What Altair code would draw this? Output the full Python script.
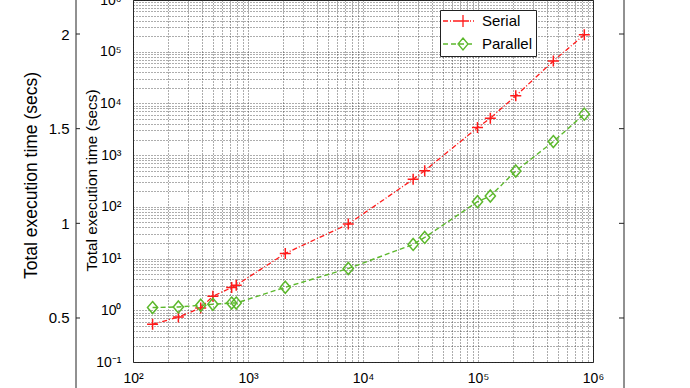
import altair as alt
import pandas as pd

# ---------------- data ----------------
sizes = [148, 248, 388, 495, 721, 790, 2110, 7450, 27300, 34400,
         99000, 128000, 213000, 452000, 840000]
serial_times = [0.535, 0.74, 1.11, 1.87, 2.75, 3.05, 12.6, 46.4, 341, 500,
                3410, 5190, 14000, 66000, 214000]
parallel_times = [1.13, 1.16, 1.25, 1.31, 1.38, 1.38, 2.79, 6.43, 18.8, 25.6,
                  126, 162, 494, 1827, 6210]
series_names = ["Serial", "Parallel"]
outer_ticks = [0.5, 1.0, 1.5, 2.0]
x_decades = [2, 3, 4, 5, 6]
y_decades = [-1, 0, 1, 2, 3, 4, 5, 6]
y_title = "Total execution time (secs)"

# ---------------- style ----------------
FONT = "Liberation Sans"
RED = "#ff1a1a"
GREEN = "#5cb82c"
GRID = "#333333"
FRAME = "#222222"

SUP = {"-": "\u207b", "0": "\u2070", "1": "\u00b9", "2": "\u00b2", "3": "\u00b3",
       "4": "\u2074", "5": "\u2075", "6": "\u2076"}


def sup(d):
    return "".join(SUP[c] for c in str(d))


def decade_grid(decs):
    vals = []
    for k in decs[:-1]:
        for m in range(1, 10):
            vals.append(m * 10 ** k)
    vals.append(10 ** decs[-1])
    return vals


def decade_expr(decs):
    expr = "''"
    for d in reversed(decs):
        expr = f"datum.value == {repr(10.0 ** d)} ? '10{sup(d)}' : ({expr})"
    return expr


# legend symbol: nominal 14 px box (unit = 7 px), line drawn from -8 px to +23 px
UNIT = 7.0
LINE_FROM, LINE_TO, MARK_AT = -8.0, 23.0, 12.0


def dash_path(pattern):
    parts, pos, i = [], LINE_FROM, 0
    while pos < LINE_TO:
        ln = pattern[i % len(pattern)]
        if i % 2 == 0:
            x0 = pos / UNIT
            x1 = min(pos + ln, LINE_TO) / UNIT
            parts.append(f"M{x0:.3f},0L{x1:.3f},0")
        pos += ln
        i += 1
    return "".join(parts)


def u(px):
    return f"{px / UNIT:.3f}"


SERIAL_DASH = [5, 2, 1, 2]
PAR_DASH = [5, 3]
PLUS = "M-1,0L1,0M0,-1L0,1"
DIAMOND = "M0,-1L0.85,0L0,1L-0.85,0Z"
m = MARK_AT
LEG_SERIAL = dash_path(SERIAL_DASH) + (
    f"M{u(m - 6)},0L{u(m + 6)},0M{u(m)},{u(-6)}L{u(m)},{u(6)}")
LEG_PAR = dash_path(PAR_DASH) + (
    f"M{u(m)},{u(-6)}L{u(m + 5)},0L{u(m)},{u(6)}L{u(m - 5)},0Z")

df = pd.DataFrame({"n": sizes, "serial": serial_times, "parallel": parallel_times})
legend_df = pd.DataFrame({"series": series_names})
outer_df = pd.DataFrame({"v": outer_ticks})

# ---------------- inner log-log plot ----------------
xs = alt.Scale(type="log", domain=[100, 1e6], nice=False)
ys = alt.Scale(type="log", domain=[0.1, 1e6], nice=False)

x_axis = alt.Axis(values=decade_grid(x_decades), labelExpr=decade_expr(x_decades),
                  grid=True, gridDash=[1, 2], gridColor=GRID, gridOpacity=0.8,
                  ticks=False, domain=False, labelPadding=9, labelFontSize=14,
                  labelFont=FONT, labelColor="black", labelOverlap=False,
                  labelFlush=False, labelBound=False, title=None)
y_axis = alt.Axis(orient="left", values=decade_grid(y_decades),
                  labelExpr=decade_expr(y_decades),
                  grid=True, gridDash=[1, 2], gridColor=GRID, gridOpacity=0.8,
                  ticks=False, domain=False, labelPadding=12, labelFontSize=14,
                  labelFont=FONT, labelColor="black", labelOverlap=False,
                  labelFlush=False, labelBound=False,
                  title=y_title, titleFont=FONT, titleFontSize=15.4,
                  titleFontWeight="normal", titleColor="black",
                  titleAngle=270, titleAlign="center", titleBaseline="middle",
                  titleX=-42, titleY=180)

x_enc = alt.X("n:Q", scale=xs, axis=x_axis)

serial_line = alt.Chart(df).mark_line(color=RED, strokeDash=SERIAL_DASH, strokeWidth=1.3).encode(
    x=x_enc, y=alt.Y("serial:Q", scale=ys, axis=y_axis))
serial_pts = alt.Chart(df).mark_point(shape=PLUS, size=121, color=RED, strokeWidth=1.5,
                                      filled=False, opacity=1).encode(
    x=x_enc, y=alt.Y("serial:Q", scale=ys, axis=y_axis))
par_line = alt.Chart(df).mark_line(color=GREEN, strokeDash=PAR_DASH, strokeWidth=1.4).encode(
    x=x_enc, y=alt.Y("parallel:Q", scale=ys, axis=y_axis))
par_pts = alt.Chart(df).mark_point(shape=DIAMOND, size=144, color=GREEN, strokeWidth=1.5,
                                   filled=False, opacity=1).encode(
    x=x_enc, y=alt.Y("parallel:Q", scale=ys, axis=y_axis))

leg = alt.Legend(orient="none", legendX=307, legendY=10, title=None,
                 strokeColor=FRAME, fillColor="white", padding=3, rowPadding=5,
                 labelFontSize=15, labelFont=FONT, labelColor="black", labelOffset=23,
                 symbolSize=196, symbolStrokeWidth=1.3)
legend_layer = alt.Chart(legend_df).transform_filter("false").mark_point(
    size=196, strokeWidth=1.3, filled=False, opacity=1).encode(
    color=alt.Color("series:N", scale=alt.Scale(domain=series_names, range=[RED, GREEN]), legend=leg),
    shape=alt.Shape("series:N", scale=alt.Scale(domain=series_names, range=[LEG_SERIAL, LEG_PAR]), legend=leg),
)

inner = alt.layer(serial_line, par_line, serial_pts, par_pts, legend_layer)

# ---------------- outer (background) linear axes ----------------
oy = alt.Scale(domain=[0.2676, 2.1796], nice=False, zero=False)
outer_axis = alt.Axis(orient="left", offset=57, values=outer_ticks, format="~g",
                      domain=False, ticks=False, grid=False, labelPadding=7,
                      labelFontSize=15, labelFont=FONT, labelColor="black",
                      title=y_title, titleFont=FONT, titleFontSize=17.5,
                      titleFontWeight="normal", titleColor="black",
                      titleAngle=270, titleAlign="center", titleBaseline="middle",
                      titleX=-45, titleY=175)

left_ticks = alt.Chart(outer_df).mark_rule(color=FRAME, strokeWidth=1).encode(
    y=alt.Y("v:Q", scale=oy, axis=outer_axis), x=alt.value(-57), x2=alt.value(-53))
right_ticks = alt.Chart(outer_df).mark_rule(color=FRAME, strokeWidth=1).encode(
    y=alt.Y("v:Q", scale=oy, axis=outer_axis), x=alt.value(486), x2=alt.value(491))
one = outer_df.head(1)
left_line = alt.Chart(one).mark_rule(color=FRAME, strokeWidth=1).encode(
    x=alt.value(-57), y=alt.value(-10), y2=alt.value(400))
right_line = alt.Chart(one).mark_rule(color=FRAME, strokeWidth=1).encode(
    x=alt.value(491), y=alt.value(-10), y2=alt.value(400))

outer = alt.layer(left_line, right_line, left_ticks, right_ticks)

chart = alt.layer(outer, inner).resolve_scale(y="independent").properties(
    width=460, height=362,
    autosize=alt.AutoSizeParams(type="none"),
    padding={"left": 133, "top": 0, "right": 97, "bottom": 26},
    background="white",
).configure(font=FONT).configure_view(stroke=FRAME, strokeWidth=1)

chart.save("out.html", embed_options={"renderer": "svg", "actions": False})
